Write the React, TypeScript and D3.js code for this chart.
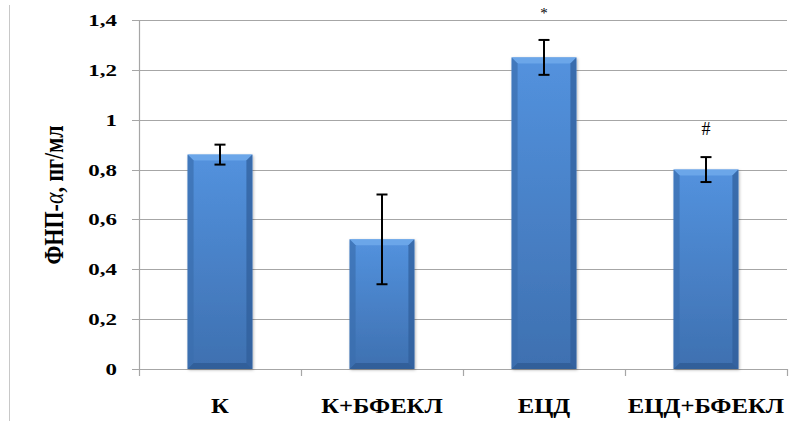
import React from "react";
import * as d3 from "d3";

const categories = ["К", "К+БФЕКЛ", "ЕЦД", "ЕЦД+БФЕКЛ"];
const values = [0.86, 0.52, 1.25, 0.80];
const errors = [0.04, 0.18, 0.07, 0.05];
const marks = ["", "", "*", "#"];
const yTicks = [0, 0.2, 0.4, 0.6, 0.8, 1, 1.2, 1.4];
const yTitleMain = "ФНП-";
const yTitleAlpha = "α";
const yTitleUnit = ", пг/мл";

const W = 802;
const H = 421;
const left = 139;
const right = 787;
const top = 20;
const bottom = 369;

const font = "Liberation Serif, Times New Roman, Tinos, DejaVu Serif, serif";

export default function App() {
  const x = d3.scaleBand<string>().domain(categories).range([left, right]).paddingInner(0.6).paddingOuter(0.3);
  const xc = d3.scaleBand<string>().domain(categories).range([left, right]);
  const y = d3.scaleLinear().domain([0, 1.4]).range([bottom, top]);
  const fmt = (v: number) => String(v).replace(".", ",");
  const bv = 6;
  const sx = 1.35;
  const sxl = 1.12;

  return (
    <svg width={W} height={H} style={{ position: "absolute", left: 0, top: 0, background: "#fff" }}>
      <defs>
        <linearGradient id="barg" x1="0" y1="0" x2="0" y2="1">
          <stop offset="0" stopColor="#5392de" />
          <stop offset="1" stopColor="#3e70b0" />
        </linearGradient>
        <filter id="sh" x="-20%" y="-20%" width="140%" height="140%">
          <feDropShadow dx="1" dy="1" stdDeviation="1.5" floodColor="#000" floodOpacity="0.3" />
        </filter>
      </defs>
      <line x1={9.5} x2={9.5} y1={5} y2={H} stroke="#c8c8c8" strokeWidth={1} />
      {yTicks.map((t) => (
        <g key={t}>
          <line x1={132} x2={right} y1={Math.round(y(t)) + 0.5} y2={Math.round(y(t)) + 0.5} stroke="#a6a6a6" strokeWidth={1.2} />
          <g transform={`translate(117, ${y(t) + 6}) scale(${sx}, 1)`}>
            <text x={0} y={0} textAnchor="end" style={{ fontFamily: font }} fontWeight="bold" fontSize={17} fill="#000">
              {fmt(t)}
            </text>
          </g>
        </g>
      ))}
      <line x1={left + 0.5} x2={left + 0.5} y1={top} y2={bottom + 7} stroke="#a6a6a6" strokeWidth={1.2} />
      {categories.map((c, i) => (
        <line key={"t" + i} x1={Math.round((xc(c) as number) + xc.bandwidth()) + 0.5} x2={Math.round((xc(c) as number) + xc.bandwidth()) + 0.5} y1={bottom} y2={bottom + 7} stroke="#a6a6a6" strokeWidth={1.2} />
      ))}
      {categories.map((c, i) => {
        const x0 = x(c) as number;
        const bw = x.bandwidth();
        const y0 = y(values[i]);
        const y1 = y(0);
        const cx = x0 + bw / 2;
        return (
          <g key={c}>
            <rect x={x0} y={y0} width={bw} height={y1 - y0} fill="url(#barg)" filter="url(#sh)" />
            <polygon points={`${x0},${y0} ${x0 + bw},${y0} ${x0 + bw - bv},${y0 + bv} ${x0 + bv},${y0 + bv}`} fill="#6ea8ea" opacity={0.9} />
            <polygon points={`${x0},${y0} ${x0 + bv},${y0 + bv} ${x0 + bv},${y1 - bv} ${x0},${y1}`} fill="#3b6eae" opacity={0.7} />
            <polygon points={`${x0 + bw},${y0} ${x0 + bw - bv},${y0 + bv} ${x0 + bw - bv},${y1 - bv} ${x0 + bw},${y1}`} fill="#2f5d98" opacity={0.7} />
            <polygon points={`${x0},${y1} ${x0 + bv},${y1 - bv} ${x0 + bw - bv},${y1 - bv} ${x0 + bw},${y1}`} fill="#2c5990" opacity={0.7} />
            <line x1={cx} x2={cx} y1={y(values[i] + errors[i])} y2={y(values[i] - errors[i])} stroke="#000" strokeWidth={2} />
            <line x1={cx - 5.5} x2={cx + 5.5} y1={y(values[i] + errors[i])} y2={y(values[i] + errors[i])} stroke="#000" strokeWidth={2} />
            <line x1={cx - 5.5} x2={cx + 5.5} y1={y(values[i] - errors[i])} y2={y(values[i] - errors[i])} stroke="#000" strokeWidth={2} />
            {marks[i] && (
              <text x={cx} y={y(values[i] + errors[i]) - 22} textAnchor="middle" style={{ fontFamily: font }} fontSize={marks[i] === "*" ? 15 : 18} fill="#000">
                {marks[i]}
              </text>
            )}
            <g transform={`translate(${(xc(c) as number) + xc.bandwidth() / 2}, 413) scale(${sxl}, 1)`}>
              <text x={0} y={0} textAnchor="middle" style={{ fontFamily: font }} fontWeight="bold" fontSize={22} fill="#000">
                {c}
              </text>
            </g>
          </g>
        );
      })}
      <g transform={`translate(63, 195) rotate(-90) scale(1, 1.25)`}>
        <text x={0} y={0} textAnchor="middle" style={{ fontFamily: font }} fontWeight="bold" fontSize={22} fill="#000">
          {yTitleMain}
          <tspan fontStyle="italic" fontWeight="normal">{yTitleAlpha}</tspan>
          {yTitleUnit}
        </text>
      </g>
    </svg>
  );
}
